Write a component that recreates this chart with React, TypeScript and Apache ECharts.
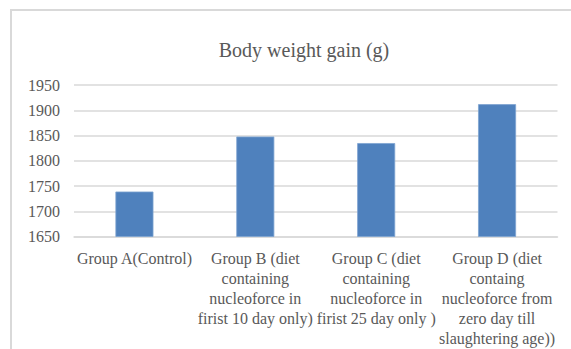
import React, { useEffect, useRef } from "react";
import * as echarts from "echarts";

// Body weight gain per group (g)
const categories: string[] = [
  "Group A(Control)",
  "Group B (diet\ncontaining\nnucleoforce in\nfirist 10 day only)",
  "Group C (diet\ncontaining\nnucleoforce in\nfirist 25 day only )",
  "Group D (diet\ncontaing\nnucleoforce from\nzero day till\nslaughtering age))",
];
const weightGain: number[] = [1739, 1848, 1835, 1912];
const yTicks = { min: 1650, max: 1950, interval: 50 };

const FONT = "Liberation Serif";
const TEXT = "#595959";

export default function App() {
  const ref = useRef<HTMLDivElement>(null);

  useEffect(() => {
    if (!ref.current) return;
    const chart = echarts.init(ref.current, undefined, { renderer: "svg" });
    chart.setOption({
      animation: false,
      backgroundColor: "#ffffff",
      textStyle: { fontFamily: FONT, color: TEXT },
      title: {
        text: "Body weight gain (g)",
        left: 299,
        top: 35,
        textAlign: "center",
        textStyle: {
          fontFamily: FONT,
          fontSize: 20,
          fontWeight: "normal",
          color: TEXT,
        },
      },
      graphic: [
        {
          type: "rect",
          shape: { x: 11, y: 10, width: 620, height: 400 },
          style: { fill: "none", stroke: "#d9d9d9", lineWidth: 2 },
          silent: true,
        },
      ],
      grid: { left: 74, right: 13.5, top: 85, bottom: 112.5, containLabel: false },
      xAxis: {
        type: "category",
        data: categories,
        axisLine: { show: true, lineStyle: { color: "#d9d9d9", width: 1.5 } },
        axisTick: { show: false },
        axisLabel: {
          interval: 0,
          margin: 12,
          fontFamily: FONT,
          fontSize: 16,
          lineHeight: 20,
          color: TEXT,
          align: "center",
        },
      },
      yAxis: {
        type: "value",
        min: yTicks.min,
        max: yTicks.max,
        interval: yTicks.interval,
        axisLine: { show: false },
        axisTick: { show: false },
        splitLine: { lineStyle: { color: "#d9d9d9", width: 1.5 } },
        axisLabel: {
          margin: 14,
          fontFamily: FONT,
          fontSize: 16,
          color: TEXT,
          formatter: (v: number) => String(v),
        },
      },
      series: [
        {
          type: "bar",
          data: weightGain,
          barWidth: 38,
          itemStyle: { color: "#4f81bd", borderColor: "#7da3d1", borderWidth: 0.8 },
        },
      ],
    });
    return () => chart.dispose();
  }, []);

  return (
    <div
      ref={ref}
      style={{ position: "fixed", left: 0, top: 0, width: 571, height: 349 }}
    />
  );
}
